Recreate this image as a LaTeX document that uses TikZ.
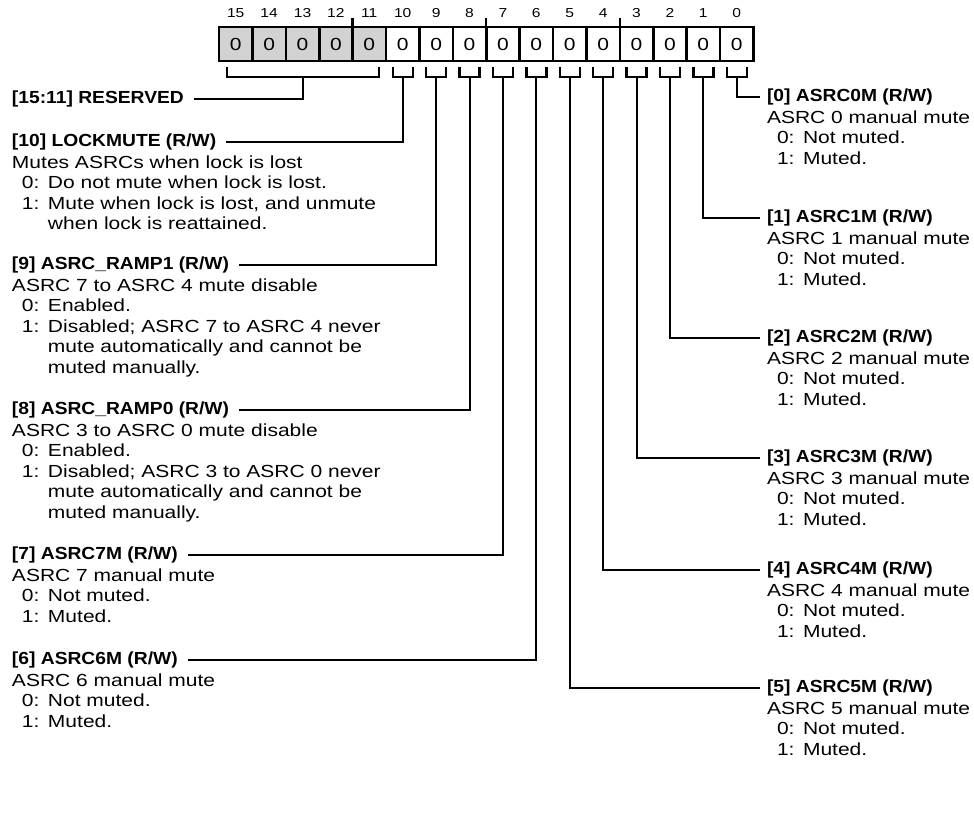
\documentclass[tikz,border=0pt]{standalone}
\usepackage{fontspec}
\setmainfont[FakeStretch=1.2]{Liberation Sans}
\newfontfamily\hdfont[FakeStretch=1.1]{Liberation Sans}
\usetikzlibrary{positioning,calc}

% value line and continuation line of a field description
\newcommand{\bitval}[2]{\hspace*{10pt}\makebox[26pt][l]{#1:}#2}
\newcommand{\bitcont}[1]{\hspace*{36pt}#1}

\begin{document}
\begin{tikzpicture}[x=1pt, y=-1pt,
        every node/.style={inner sep=0pt, outer sep=0pt},
        regcell/.style={draw, line width=2.6pt, minimum width=33.4pt, minimum height=34pt, font=\fontsize{17.5}{20}\selectfont},
        bitnum/.style={font=\fontsize{13}{15}\selectfont},
        brk/.style={line width=2.4pt},
        conn/.style={line width=2pt},
        hd/.style={font=\hdfont\bfseries\fontsize{17.5}{20.4}\selectfont, anchor=west},
        desc/.style={font=\fontsize{17.5}{20.4}\selectfont, align=left}
    ]
        \useasboundingbox (0,0) rectangle (974,828);

        % Register: 16 cells, bits 15..11 reserved (grey)
        \foreach \i in {0,...,15} {
            \pgfmathsetmacro\cx{219+(15.5-\i)*33.4}
            \ifnum\i>10 \def\cfill{gray!35}\else\def\cfill{white}\fi
            \node[regcell, fill=\cfill] (c\i) at (\cx,44) {0};
            \node[bitnum] (n\i) at (\cx,13) {\i};
        }

        % Group ticks every 4 bits
        \foreach \i in {12,8,4}
            \draw[brk] (c\i.north east) -- ++(0,-9);

        % Brackets under single bits
        \foreach \i in {0,...,10} {
            \draw[brk] ($(c\i.south)+(-10,6)$) |- ($(c\i.south)+(10,16)$) -- ++(0,-10);
            \coordinate (s\i) at ($(c\i.south)+(0,16)$);
        }

        % Bracket under reserved bits
        \draw[brk] ($(c15.south)+(-8.7,6)$) |- ($(c11.south)+(9.7,16)$) -- ++(0,-10);
        \coordinate (rmid) at ($(c15.south)!0.5!(c11.south)$);
        \coordinate (s15) at ($(rmid)+(0,16)$);

        % Left column
        \node[hd] (f15) at (12,99) {[15:11] RESERVED};

        \node[hd] (f10) at (12,142) {[10] LOCKMUTE (R/W)};
        \node[desc, below=4pt of f10.south west, anchor=north west] (d10) {\strut Mutes ASRCs when lock is lost\\
            \bitval{0}{Do not mute when lock is lost.}\\
            \bitval{1}{Mute when lock is lost, and unmute}\\
            \bitcont{when lock is reattained.}};

        \node[hd] (f9) at (12,265) {[9] ASRC\_RAMP1 (R/W)};
        \node[desc, below=4pt of f9.south west, anchor=north west] (d9) {\strut ASRC 7 to ASRC 4 mute disable\\
            \bitval{0}{Enabled.}\\
            \bitval{1}{Disabled; ASRC 7 to ASRC 4 never}\\
            \bitcont{mute automatically and cannot be}\\
            \bitcont{muted manually.}};

        \node[hd] (f8) at (12,410) {[8] ASRC\_RAMP0 (R/W)};
        \node[desc, below=4pt of f8.south west, anchor=north west] (d8) {\strut ASRC 3 to ASRC 0 mute disable\\
            \bitval{0}{Enabled.}\\
            \bitval{1}{Disabled; ASRC 3 to ASRC 0 never}\\
            \bitcont{mute automatically and cannot be}\\
            \bitcont{muted manually.}};

        \foreach \i/\y in {7/555, 6/660} {
            \node[hd] (f\i) at (12,\y) {[\i] ASRC\i M (R/W)};
            \node[desc, below=4pt of f\i.south west, anchor=north west] (d\i) {\strut ASRC \i\ manual mute\\
                \bitval{0}{Not muted.}\\
                \bitval{1}{Muted.}};
        }

        % Right column
        \foreach \i/\y in {0/97, 1/218, 2/338, 3/458, 4/570, 5/688} {
            \node[hd] (f\i) at (767,\y) {[\i] ASRC\i M (R/W)};
            \node[desc, below=4pt of f\i.south west, anchor=north west] (d\i) {\strut ASRC \i\ manual mute\\
                \bitval{0}{Not muted.}\\
                \bitval{1}{Muted.}};
        }

        % Connectors
        \foreach \i in {15,10,9,8,7,6}
            \draw[conn] (s\i) |- ([xshift=10pt]f\i.east);
        \foreach \i in {0,...,5}
            \draw[conn] (s\i) |- ([xshift=-7pt]f\i.west);

    \end{tikzpicture}
\end{document}
